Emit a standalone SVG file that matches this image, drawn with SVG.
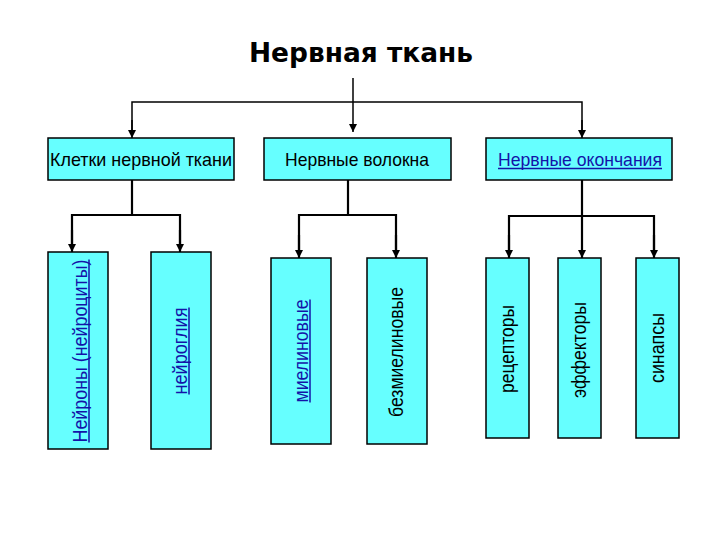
<svg xmlns="http://www.w3.org/2000/svg" width="720" height="540" viewBox="0 0 720 540">
<defs>
<marker id="arr" markerUnits="userSpaceOnUse" markerWidth="8" markerHeight="8" viewBox="0 0 8 8" refX="8" refY="4" orient="auto">
<path d="M0,0 L8,4 L0,8 Z" fill="#000"/>
</marker>
<style>
.box{fill:#66FFFF;stroke:#000;stroke-width:1.5}
.ln{fill:none;stroke:#000;stroke-width:2.2}
.lt{font-family:"Liberation Sans",Arial,sans-serif;font-size:19px;fill:#000}
.vt{font-family:"Liberation Sans",Arial,sans-serif;font-size:21px;fill:#000}
.lk{fill:#1414a8}
.ul{stroke:#1414a8;stroke-width:1.5}
</style>
</defs>
<rect width="720" height="540" fill="#fff"/>
<g id="title">
<text x="361" y="62" text-anchor="middle" font-family="'DejaVu Sans',Verdana,sans-serif" font-weight="bold" font-size="26" textLength="224" lengthAdjust="spacingAndGlyphs">Нервная ткань</text>
</g>
<g id="connectors">
<line class="ln" x1="353" y1="78" x2="353" y2="132" marker-end="url(#arr)" style="stroke-width:1.5"/>
<polyline class="ln" points="132,130 132,102 582,102 582,130" style="stroke-width:1.5"/>
<line class="ln" x1="132" y1="120" x2="132" y2="138" marker-end="url(#arr)" style="stroke-width:1.5"/>
<line class="ln" x1="582" y1="120" x2="582" y2="138" marker-end="url(#arr)" style="stroke-width:1.5"/>
<line class="ln" x1="132" y1="180" x2="132" y2="215"/>
<polyline class="ln" points="72,245 72,215 180,215 180,245"/>
<line class="ln" x1="72" y1="230" x2="72" y2="252" marker-end="url(#arr)"/>
<line class="ln" x1="180" y1="230" x2="180" y2="252" marker-end="url(#arr)"/>
<line class="ln" x1="348" y1="180" x2="348" y2="215"/>
<polyline class="ln" points="299,250 299,215 396,215 396,250"/>
<line class="ln" x1="299" y1="235" x2="299" y2="258" marker-end="url(#arr)"/>
<line class="ln" x1="396" y1="235" x2="396" y2="258" marker-end="url(#arr)"/>
<line class="ln" x1="582" y1="180" x2="582" y2="258" marker-end="url(#arr)"/>
<polyline class="ln" points="509,250 509,216 654,216 654,250"/>
<line class="ln" x1="509" y1="235" x2="509" y2="258" marker-end="url(#arr)"/>
<line class="ln" x1="654" y1="235" x2="654" y2="258" marker-end="url(#arr)"/>
</g>
<g id="n-cells">
<rect class="box" x="48" y="138" width="186" height="42"/>
<text class="lt" x="141" y="166" text-anchor="middle" textLength="182" lengthAdjust="spacingAndGlyphs">Клетки нервной ткани</text>
</g>
<g id="n-fibers">
<rect class="box" x="264" y="138" width="187" height="42"/>
<text class="lt" x="357" y="166" text-anchor="middle" textLength="144" lengthAdjust="spacingAndGlyphs">Нервные волокна</text>
</g>
<g id="n-endings">
<rect class="box" x="486" y="138" width="186" height="42"/>
<text class="lt lk" x="580" y="166" text-anchor="middle" textLength="164" lengthAdjust="spacingAndGlyphs">Нервные окончания</text>
<line class="ul" x1="498" y1="168.5" x2="662" y2="168.5"/>
</g>
<g id="n-neurons">
<rect class="box" x="48" y="252" width="60" height="197"/>
<text class="vt lk" transform="translate(87,351) rotate(-90)" text-anchor="middle" textLength="183" lengthAdjust="spacingAndGlyphs">Нейроны (нейроциты)</text>
<line class="ul" x1="89" y1="259.5" x2="89" y2="442.5"/>
</g>
<g id="n-glia">
<rect class="box" x="151" y="252" width="60" height="197"/>
<text class="vt lk" transform="translate(187,351) rotate(-90)" text-anchor="middle" textLength="87" lengthAdjust="spacingAndGlyphs">нейроглия</text>
<line class="ul" x1="189" y1="307.5" x2="189" y2="394.5"/>
</g>
<g id="n-myel">
<rect class="box" x="271" y="258" width="60" height="186"/>
<text class="vt lk" transform="translate(308,351) rotate(-90)" text-anchor="middle" textLength="103" lengthAdjust="spacingAndGlyphs">миелиновые</text>
<line class="ul" x1="310" y1="299.5" x2="310" y2="402.5"/>
</g>
<g id="n-unmyel">
<rect class="box" x="367" y="258" width="60" height="186"/>
<text class="vt" transform="translate(403,352) rotate(-90)" text-anchor="middle" textLength="130" lengthAdjust="spacingAndGlyphs">безмиелиновые</text>
</g>
<g id="n-receptors">
<rect class="box" x="486" y="258" width="43" height="180"/>
<text class="vt" transform="translate(514,349) rotate(-90)" text-anchor="middle" textLength="88" lengthAdjust="spacingAndGlyphs">рецепторы</text>
</g>
<g id="n-effectors">
<rect class="box" x="558" y="258" width="43" height="180"/>
<text class="vt" transform="translate(586,350) rotate(-90)" text-anchor="middle" textLength="96" lengthAdjust="spacingAndGlyphs">эффекторы</text>
</g>
<g id="n-synapses">
<rect class="box" x="636" y="258" width="43" height="180"/>
<text class="vt" transform="translate(664,348) rotate(-90)" text-anchor="middle" textLength="70" lengthAdjust="spacingAndGlyphs">синапсы</text>
</g>
</svg>
